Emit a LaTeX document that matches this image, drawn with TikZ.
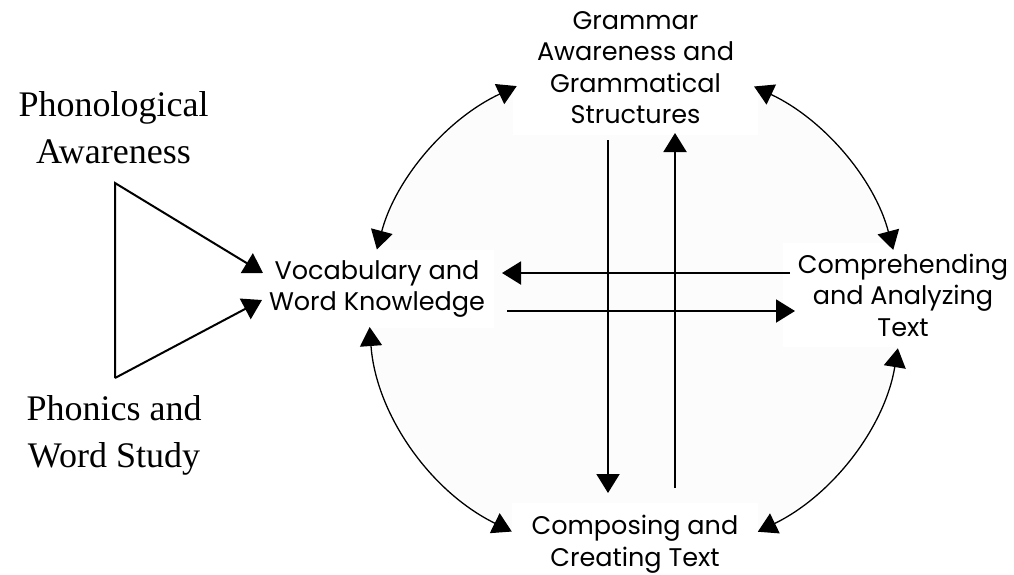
\documentclass[tikz,border=0pt]{standalone}
\usepackage{fontspec}
\setmainfont{Liberation Serif}
\newfontfamily\gothic{Poppins}
\usetikzlibrary{arrows.meta,calc}
\definecolor{bgcirc}{RGB}{252,252,252}
\begin{document}
\begin{tikzpicture}[x=1pt,y=-1pt,
  lbl/.style={font=\gothic\fontsize{25.5}{31.5}\selectfont, align=center, fill=white, inner sep=0pt},
  serif/.style={font=\fontsize{36}{47}\selectfont, align=center, inner sep=0pt},
  fat/.style={line width=2pt, -{Triangle[length=19pt,width=23pt]}},
  arcarrow/.style={line width=1.3pt, {Triangle[length=19pt,width=22pt]}-{Triangle[length=19pt,width=22pt]}},
]
\useasboundingbox (0,0) rectangle (1014,574);
% background ellipse
\coordinate (c) at (635,310);
\fill[bgcirc] (c) ellipse[x radius=266, y radius=250];

% labels with white boxes
\node[lbl, minimum width=245pt, minimum height=135pt] (gram) at (635.5,67.5) {Grammar\\Awareness and\\Grammatical\\Structures};
\node[lbl, minimum width=233pt, minimum height=78pt] (vocab) at (377,289) {Vocabulary and\\Word Knowledge};
\node[lbl, minimum width=240pt, minimum height=104pt] (comp) at (903,295) {Comprehending\\and Analyzing\\Text};
\node[lbl, minimum width=246pt, minimum height=82pt] (compo) at (635,544) {Composing and\\Creating Text};

% serif labels
\node[serif] (phon) at (113.5,128) {Phonological\\Awareness};
\node[serif] (phonics) at (114,435) {Phonics and\\Word Study};

% triangle of arrows
\coordinate (t1) at (115,183);
\coordinate (t2) at (115,378);
\coordinate (p1) at (263,273);
\coordinate (p2) at (262,300);
\draw[fat] (t2) -- (t1) -- (p1);
\draw[fat] (t2) -- (p2);

% horizontal arrows
\coordinate (h1s) at (790,273);
\coordinate (h1e) at (502,273);
\coordinate (h2s) at (507,311);
\coordinate (h2e) at (795,311);
\draw[fat] (h1s) -- (h1e);
\draw[fat] (h2s) -- (h2e);

% vertical arrows
\coordinate (v1s) at (608,140);
\coordinate (v1e) at (608,493);
\coordinate (v2s) at (675,488);
\coordinate (v2e) at (675,133);
\draw[fat] (v1s) -- (v1e);
\draw[fat] (v2s) -- (v2e);

% curved double arrows
\coordinate (a1) at ($(c)+(-166:266 and 250)$);
\coordinate (b1) at ($(c)+(-63.4:266 and 250)$);
\coordinate (c1) at ($(c)+(8.8:266 and 250)$);
\coordinate (d1) at ($(c)+(117.6:266 and 250)$);
\draw[arcarrow] (a1) arc[start angle=-166, end angle=-116.4, x radius=266, y radius=250];
\draw[arcarrow] (b1) arc[start angle=-63.4, end angle=-13.9, x radius=266, y radius=250];
\draw[arcarrow] (c1) arc[start angle=8.8, end angle=62.5, x radius=266, y radius=250];
\draw[arcarrow] (d1) arc[start angle=117.6, end angle=176.1, x radius=266, y radius=250];
\end{tikzpicture}
\end{document}
